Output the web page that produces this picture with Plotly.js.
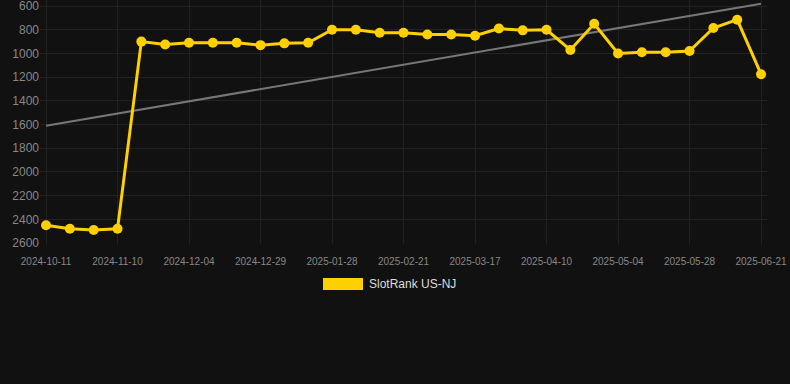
<!DOCTYPE html>
<html>
<head>
<meta charset="utf-8">
<script src="https://cdn.plot.ly/plotly-3.0.1.min.js"></script>
<style>
html,body{margin:0;padding:0;background:#111111;}
#chart{width:790px;height:384px;}
</style>
</head>
<body>
<div id="chart"></div>
<script>
const dates = [
  "2024-10-11","2024-10-21","2024-10-31","2024-11-10","2024-11-18","2024-11-26",
  "2024-12-04","2024-12-12","2024-12-20","2024-12-29","2025-01-08","2025-01-18",
  "2025-01-28","2025-02-05","2025-02-13","2025-02-21","2025-03-01","2025-03-09",
  "2025-03-17","2025-03-25","2025-04-02","2025-04-10","2025-04-18","2025-04-26",
  "2025-05-04","2025-05-12","2025-05-20","2025-05-28","2025-06-05","2025-06-13",
  "2025-06-21"
];
const ranks = [
  2450, 2480, 2490, 2480, 900, 925,
  910, 910, 910, 930, 915, 910,
  800, 800, 825, 825, 840, 840,
  850, 790, 805, 800, 970, 750,
  1000, 990, 990, 980, 785, 715,
  1175
];
const trendDates = ["2024-10-11", "2025-06-21"];
const trendValues = [1610, 580];
const tickDates = dates.filter((d, i) => i % 3 === 0);
const yTicks = [600, 800, 1000, 1200, 1400, 1600, 1800, 2000, 2200, 2400, 2600];
const seriesName = "SlotRank US-NJ";

const traces = [
  {
    x: trendDates, y: trendValues, type: "scatter", mode: "lines",
    line: {color: "#777777", width: 2}, showlegend: false, hoverinfo: "skip"
  },
  {
    x: dates, y: ranks, type: "scatter", mode: "lines+markers", name: seriesName,
    line: {color: "#FFD000", width: 3},
    marker: {color: "#FFD000", size: 10},
    showlegend: false
  }
];

const layout = {
  width: 790, height: 384,
  paper_bgcolor: "#111111", plot_bgcolor: "#111111",
  margin: {l: 40, r: 23, t: 0, b: 140},
  font: {family: "Liberation Sans, Arial, sans-serif", color: "#888888"},
  xaxis: {
    type: "category", categoryorder: "array", categoryarray: dates,
    range: [-0.252, 30.25],
    tickvals: tickDates, ticktext: tickDates,
    tickfont: {size: 10, color: "#888888"},
    showgrid: true, gridcolor: "#222222", gridwidth: 1,
    zeroline: false, showline: false,
    ticks: "outside", ticklen: 8, tickcolor: "rgba(0,0,0,0)",
    ticklabeloverflow: "allow"
  },
  yaxis: {
    range: [2608, 549],
    tickvals: yTicks,
    tickfont: {size: 12, color: "#888888"},
    showgrid: true, gridcolor: "#222222", gridwidth: 1,
    zeroline: false, showline: false, ticks: "",
    ticklabeloverflow: "allow"
  },
  shapes: [
    {type: "rect", xref: "paper", yref: "paper",
     x0: (323 - 40) / 727, x1: (363 - 40) / 727,
     y0: (244 - 290) / 244, y1: (244 - 278) / 244,
     fillcolor: "#FFD000", line: {width: 0}}
  ],
  annotations: [
    {text: seriesName, xref: "paper", yref: "paper",
     x: (367 - 40) / 727, y: (244 - 284) / 244,
     xanchor: "left", yanchor: "middle", showarrow: false,
     font: {size: 12, color: "#DDDDDD"}}
  ]
};

Plotly.newPlot("chart", traces, layout, {displayModeBar: false, staticPlot: true});
</script>
</body>
</html>
